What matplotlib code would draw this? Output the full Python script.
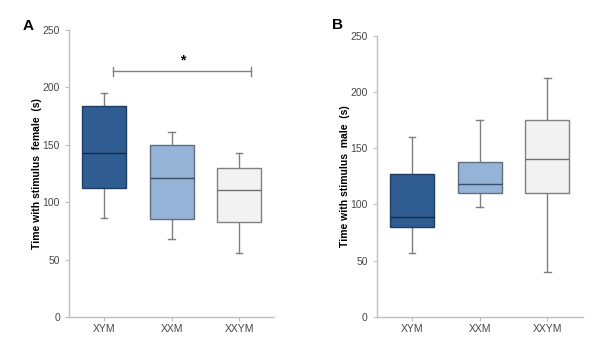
import matplotlib
matplotlib.use("Agg")
import matplotlib.pyplot as plt

plt.rcParams['font.family'] = ['Liberation Sans', 'DejaVu Sans']

categories = ["XYM", "XXM", "XXYM"]

# five-number summaries: (low whisker, Q1, median, Q3, high whisker)
female_low = [86, 68, 56]
female_q1 = [112, 85, 83]
female_med = [143, 121, 111]
female_q3 = [184, 150, 130]
female_high = [195, 161, 143]

male_low = [57, 98, 40]
male_q1 = [80, 110, 110]
male_med = [89, 118, 140]
male_q3 = [127, 138, 175]
male_high = [160, 175, 212]

sig_y = 214
sig_x = (1.13, 3.18)

face_colors = ["#305D91", "#95B3D7", "#F2F2F2"]
edge_colors = ["#1F3C61", "#5F6F80", "#808080"]
median_colors = ["#14294A", "#3A4E66", "#707070"]

fig = plt.figure(figsize=(6.0, 3.49), dpi=100)


def draw(ax, low, q1, med, q3, high, ylabel):
    stats = []
    for i, c in enumerate(categories):
        stats.append(dict(label=c, whislo=low[i], q1=q1[i], med=med[i],
                          q3=q3[i], whishi=high[i], fliers=[]))
    bp = ax.bxp(stats, positions=[1, 2, 3], widths=0.65, patch_artist=True,
                showfliers=False)
    for i, box in enumerate(bp['boxes']):
        box.set_facecolor(face_colors[i])
        box.set_edgecolor(edge_colors[i])
        box.set_linewidth(1.0)
        box.set_zorder(3)
    for i, m in enumerate(bp['medians']):
        m.set_color(median_colors[i])
        m.set_linewidth(1.0)
        m.set_zorder(4)
    for w in bp['whiskers']:
        w.set_color("#7F7F7F")
        w.set_linewidth(1.0)
    for cap in bp['caps']:
        cap.set_color("#7F7F7F")
        cap.set_linewidth(1.0)
        x0, x1 = cap.get_xdata()
        xc = (x0 + x1) / 2
        cap.set_xdata([xc - 0.05, xc + 0.05])
    ax.set_ylim(0, 250)
    ax.set_xlim(0.48, 3.52)
    ax.set_yticks([0, 50, 100, 150, 200, 250])
    for s in ['top', 'right']:
        ax.spines[s].set_visible(False)
    for s in ['left', 'bottom']:
        ax.spines[s].set_color("#BFBFBF")
        ax.spines[s].set_linewidth(1.0)
    ax.tick_params(axis='both', colors="#BFBFBF", labelcolor="#474747",
                   labelsize=7.5, length=3, width=0.8)
    ax.tick_params(axis='x', pad=2)
    ax.set_ylabel(ylabel, fontsize=7.5, fontweight='bold', labelpad=0.5)


axA = fig.add_axes([0.115, 0.0917, 0.342, 0.8223])
draw(axA, female_low, female_q1, female_med, female_q3, female_high,
     "Time with stimulus  female  (s)")
axA.plot([sig_x[0], sig_x[1]], [sig_y, sig_y], color="#808080", lw=1.0)
for xx in sig_x:
    axA.plot([xx, xx], [sig_y - 4, sig_y + 4], color="#808080", lw=1.0)
axA.text(2.17, sig_y + 3, "*", ha='center', va='bottom', fontsize=10,
         fontweight='bold', color='black')

axB = fig.add_axes([0.628, 0.0917, 0.343, 0.806])
draw(axB, male_low, male_q1, male_med, male_q3, male_high,
     "Time with stimulus  male  (s)")

fig.text(0.037, 0.915, "A", fontsize=11, fontweight='bold')
fig.text(0.553, 0.918, "B", fontsize=11, fontweight='bold')

fig.savefig("out.png", dpi=100)
